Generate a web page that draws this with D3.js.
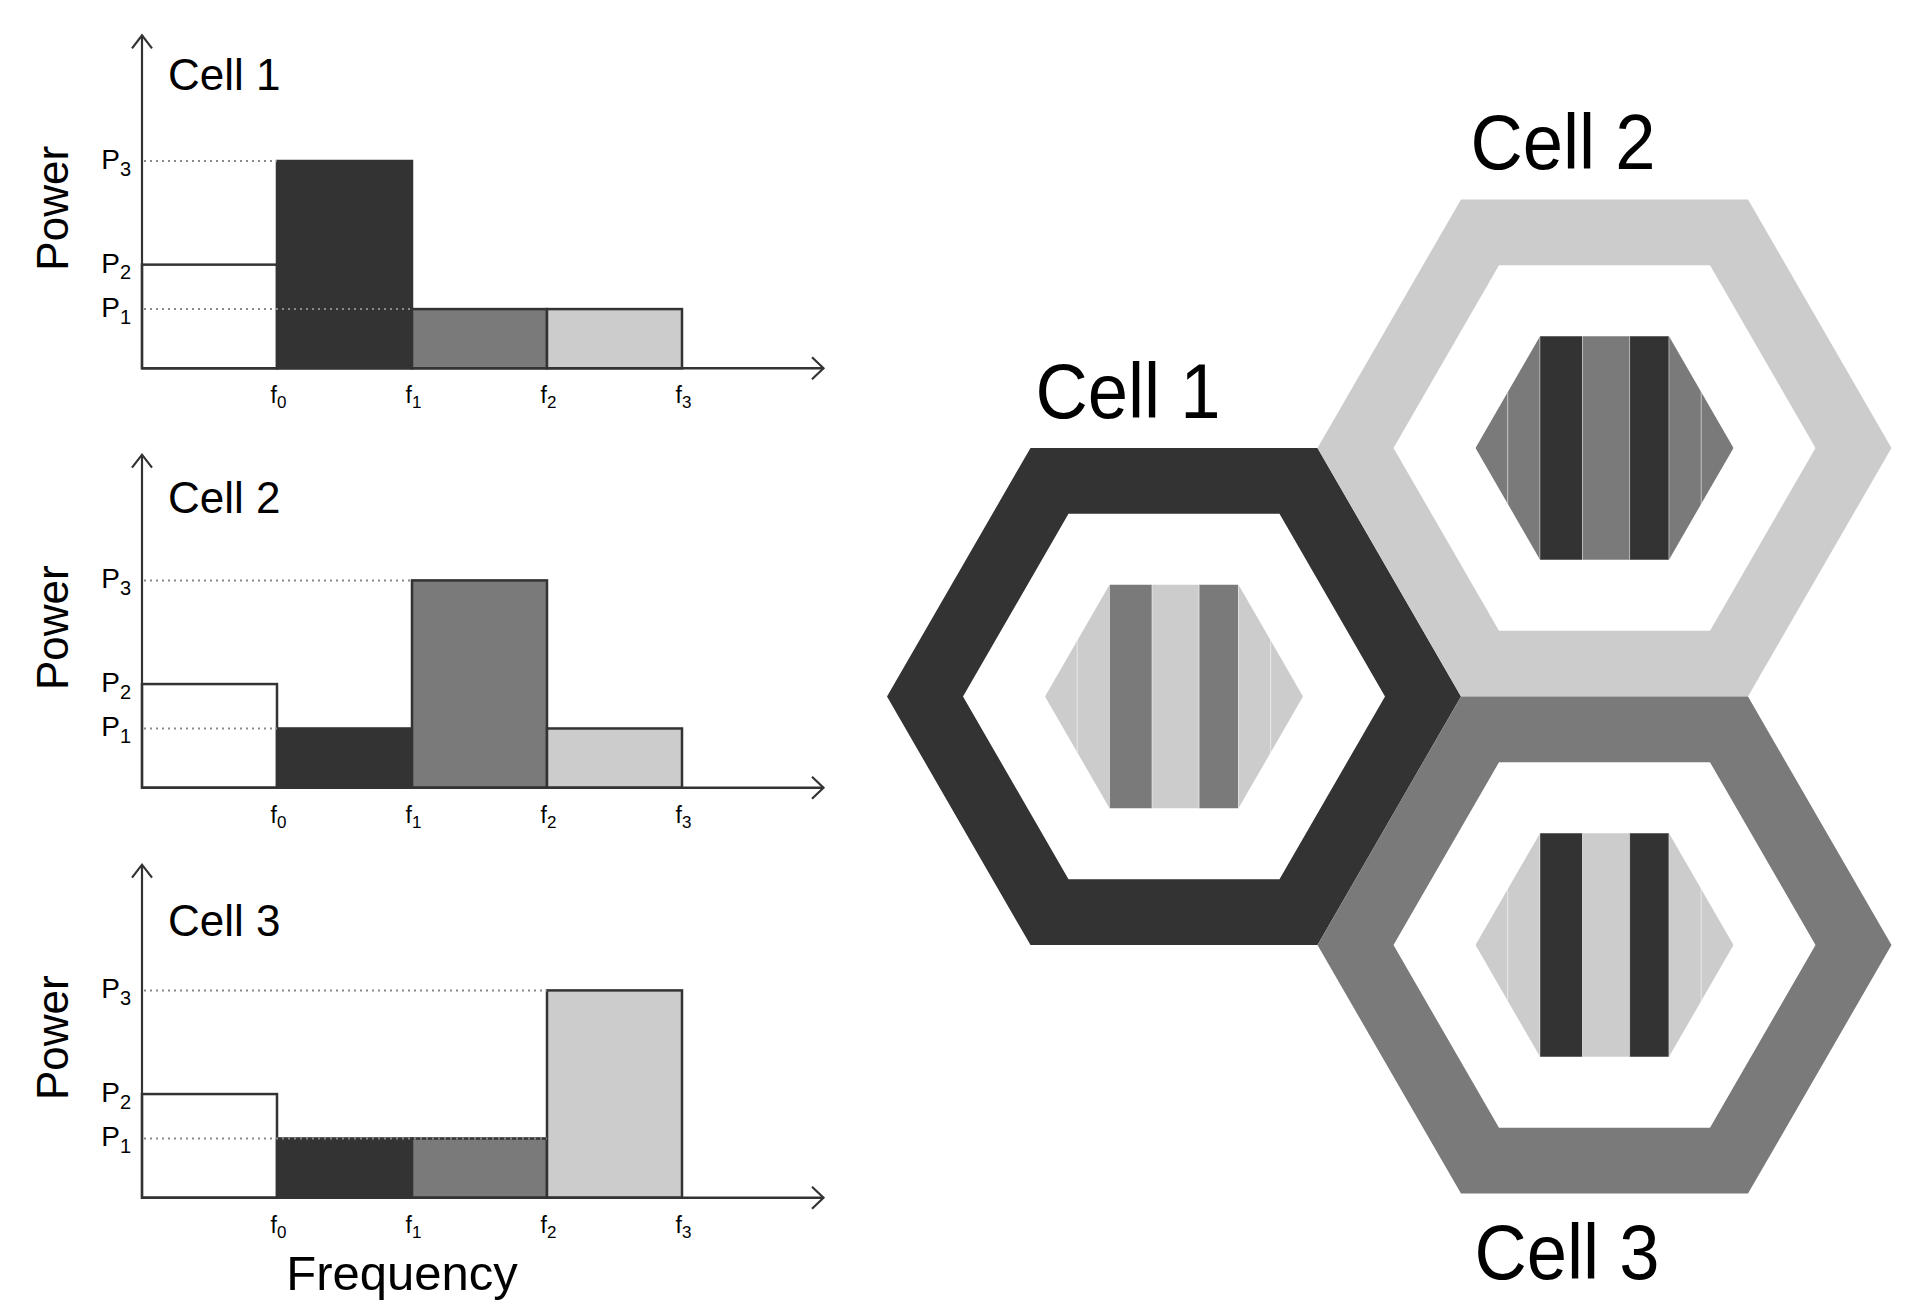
<!DOCTYPE html>
<html><head><meta charset="utf-8">
<script src="https://cdn.jsdelivr.net/npm/d3@7"></script>
<style>
body{margin:0;background:#fff}
svg{display:block;background:#fff}
text{font-family:"Liberation Sans",Arial,Helvetica,sans-serif;fill:#000}
</style>
</head><body>
<svg id="c" width="1920" height="1311"></svg>
<script>
// ---------- data ----------
const cells = ["Cell 1", "Cell 2", "Cell 3"];
const bandSubs = ["0", "1", "2", "3"];          // f0..f3 tick subscripts
const powerSubs = ["1", "2", "3"];              // P1..P3 tick subscripts
const powerLevels = [2, 3.5, 7];                // P1, P2, P3
const cell1Power = [3.5, 7, 2, 2];
const cell2Power = [3.5, 2, 7, 2];
const cell3Power = [3.5, 2, 2, 7];
// band edge (in band units) that each dotted guide reaches: [P3, P1]
const cell1Guides = [1, 2];
const cell2Guides = [2, 1];
const cell3Guides = [3, 3];
// hex map: band used by each cell's outer ring and its centre stripes
const ringBand = [1, 3, 2];
const cell1Stripes = [3, 3, 2, 3, 2, 3, 3];
const cell2Stripes = [2, 2, 1, 2, 1, 2, 2];
const cell3Stripes = [3, 3, 1, 3, 1, 3, 3];
const hexAxial = [[0, 0], [1, -1], [1, 0]];

// ---------- styles / layout ----------
const bandFill = ["#ffffff", "#333333", "#7a7a7a", "#cccccc"];
const ink = "#333333";
const svg = d3.select("#c");

const panelBase = [368.3, 787.7, 1197.7];
const panelLabelY = [90, 513, 936];
const powers = [cell1Power, cell2Power, cell3Power];
const guides = [cell1Guides, cell2Guides, cell3Guides];

const x = d3.scaleLinear().domain([0, 4]).range([142, 682]);
const xEnd = 823.5;

powers.forEach((pw, i) => {
  const base = panelBase[i];
  const y = d3.scaleLinear().domain([0, 7]).range([base, base - 207.3]);
  const yTop = base - 333;
  const g = svg.append("g");

  // bars
  g.selectAll("rect.bar").data(pw).join("rect")
    .attr("class", "bar")
    .attr("x", (d, k) => x(k))
    .attr("width", x(1) - x(0))
    .attr("y", d => y(d))
    .attr("height", d => y(0) - y(d))
    .attr("fill", (d, k) => bandFill[k])
    .attr("stroke", ink)
    .attr("stroke-width", 2.5);

  // dotted guides (P3, P1)
  const gl = [[powerLevels[2], guides[i][0]], [powerLevels[0], guides[i][1]]];
  g.selectAll("line.guide").data(gl).join("line")
    .attr("class", "guide")
    .attr("x1", x(0) + 2).attr("x2", d => x(d[1]))
    .attr("y1", d => y(d[0])).attr("y2", d => y(d[0]))
    .attr("stroke", "#8a8a8a").attr("stroke-width", 2)
    .attr("stroke-dasharray", "2,4");

  // x axis (ticks at band edges f0..f3)
  const xa = g.append("g").attr("transform", `translate(0,${base})`)
    .call(d3.axisBottom(x).tickValues([1, 2, 3, 4]).tickSize(0).tickSizeOuter(0).tickFormat(""));
  xa.select(".domain").remove();
  xa.selectAll(".tick text").remove();
  const xt = xa.selectAll(".tick").append("text")
    .attr("x", -7).attr("y", 35).attr("text-anchor", "start")
    .style("font-size", "23px").attr("fill", "#222");
  xt.append("tspan").text("f");
  xt.append("tspan").text((d, k) => bandSubs[k]).style("font-size", "17px").attr("dy", 5);

  // y axis (ticks at P1..P3)
  const ya = g.append("g").attr("transform", `translate(${x(0)},0)`)
    .call(d3.axisLeft(y).tickValues(powerLevels).tickSize(0).tickSizeOuter(0).tickFormat(""));
  ya.select(".domain").remove();
  ya.selectAll(".tick text").remove();
  const yt = ya.selectAll(".tick").append("text")
    .attr("x", -11).attr("y", 7.5).attr("text-anchor", "end")
    .style("font-size", "28px").attr("fill", "#222");
  yt.append("tspan").text("P");
  yt.append("tspan").text((d, k) => powerSubs[k]).style("font-size", "20px").attr("dy", 6.5);

  // axis lines with open arrow heads
  g.append("line").attr("x1", x(0)).attr("x2", xEnd).attr("y1", base).attr("y2", base)
    .attr("stroke", ink).attr("stroke-width", 2.5);
  g.append("polyline")
    .attr("points", `${xEnd - 11.5},${base - 11} ${xEnd},${base} ${xEnd - 11.5},${base + 11}`)
    .attr("fill", "none").attr("stroke", ink).attr("stroke-width", 2.2);
  g.append("line").attr("x1", x(0)).attr("x2", x(0)).attr("y1", base + 1).attr("y2", yTop)
    .attr("stroke", ink).attr("stroke-width", 2.2);
  g.append("polyline")
    .attr("points", `${x(0) - 10},${yTop + 13} ${x(0)},${yTop} ${x(0) + 10},${yTop + 13}`)
    .attr("fill", "none").attr("stroke", ink).attr("stroke-width", 2.2);

  // labels
  g.append("text").attr("x", 168).attr("y", panelLabelY[i])
    .style("font-size", "44px").text(cells[i]);
  g.append("text").attr("transform", `translate(68,${base - 160}) rotate(-90)`)
    .attr("text-anchor", "middle").style("font-size", "44px").text("Power");
});

svg.append("text").attr("x", 402).attr("y", 1290).attr("text-anchor", "middle")
  .style("font-size", "49px").text("Frequency");

// ---------- hexagon map ----------
const Rout = 287, Rin = 211, Rc = 129;
const origin = [1174, 696.5];
const hexPos = hexAxial.map(([q, r]) => [origin[0] + Rout * 1.5 * q, origin[1] + Rout * Math.sqrt(3) * (r + q / 2)]);
const hexPts = (cx, cy, R) => d3.range(6).map(k => [cx + R * Math.cos(k * Math.PI / 3), cy + R * Math.sin(k * Math.PI / 3)]);
const line = d3.line().curve(d3.curveLinearClosed);

const hexG = svg.append("g");
hexG.selectAll("path.ring").data(hexPos).join("path")
  .attr("class", "ring")
  .attr("d", (p, i) => line(hexPts(p[0], p[1], Rout)) + line(hexPts(p[0], p[1], Rin)))
  .attr("fill-rule", "evenodd")
  .attr("fill", (p, i) => bandFill[ringBand[i]]);

const stripeEdges = [-1, -0.75, -0.5, -0.17, 0.195, 0.5, 0.75, 1];
const stripes = [cell1Stripes, cell2Stripes, cell3Stripes];
const defs = svg.append("defs");
hexPos.forEach((p, i) => {
  defs.append("clipPath").attr("id", "hc" + i)
    .append("path").attr("d", line(hexPts(p[0], p[1], Rc)));
  const sg = hexG.append("g").attr("clip-path", `url(#hc${i})`);
  sg.selectAll("rect").data(stripes[i]).join("rect")
    .attr("x", (d, k) => p[0] + stripeEdges[k] * Rc)
    .attr("width", (d, k) => (stripeEdges[k + 1] - stripeEdges[k]) * Rc)
    .attr("y", p[1] - Rc).attr("height", 2 * Rc)
    .attr("fill", d => bandFill[d])
    .attr("stroke", "rgba(255,255,255,0.35)").attr("stroke-width", 1);
});

// big labels
const bigLabelPos = [[1128, 418], [1563, 169], [1567, 1279]];
svg.selectAll("text.big").data(cells).join("text")
  .attr("class", "big")
  .attr("transform", (d, i) => `translate(${bigLabelPos[i][0]},${bigLabelPos[i][1]}) scale(0.94,1)`)
  .attr("text-anchor", "middle").style("font-size", "77px").text(d => d);
</script>
</body></html>
